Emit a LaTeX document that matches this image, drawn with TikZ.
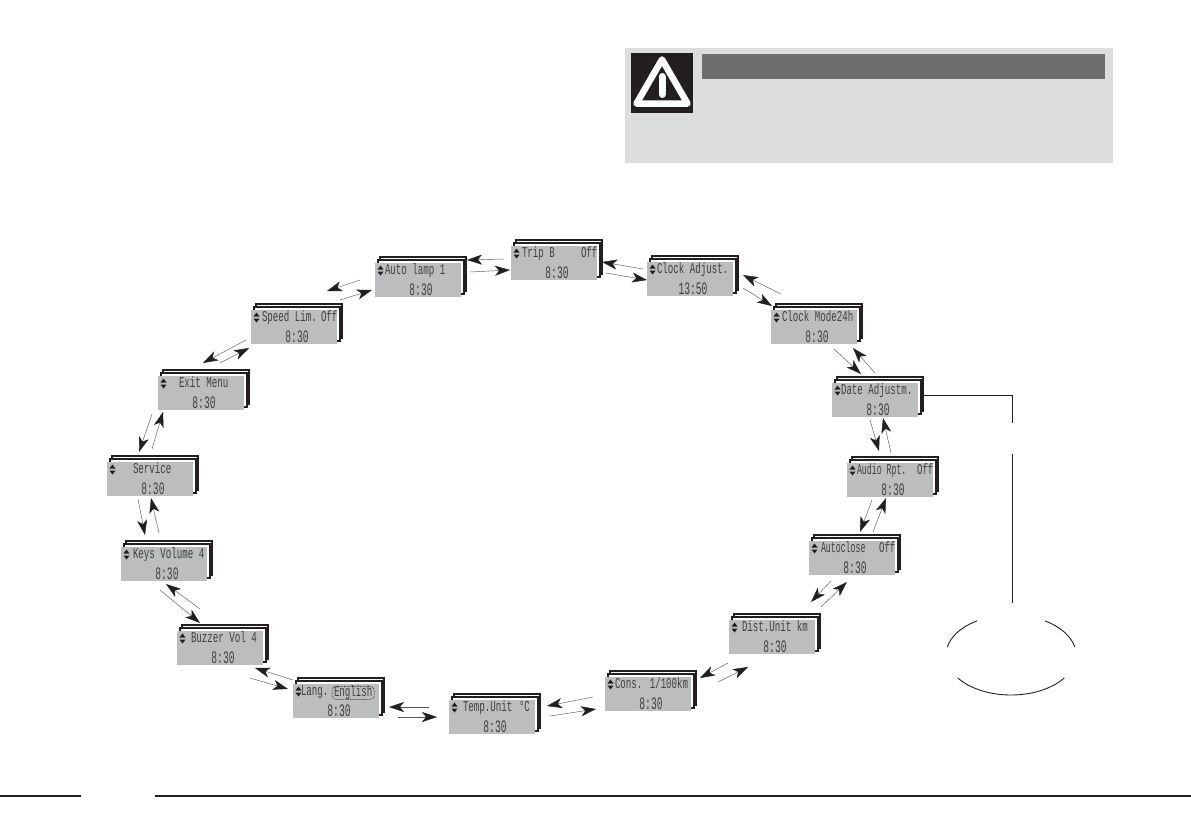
\documentclass[tikz,border=0pt]{standalone}
\usepackage{fontspec}
\usetikzlibrary{arrows.meta}
\newfontfamily\lcdlabel[FakeStretch=0.61]{Liberation Mono}
\newfontfamily\lcdclock[FakeStretch=0.55]{Liberation Mono}
\definecolor{facegray}{HTML}{BCBDBF}
\definecolor{panelgray}{HTML}{DCDDDF}
\definecolor{bargray}{HTML}{6D6E70}
\definecolor{inkblack}{HTML}{231F20}
\definecolor{lcdink}{HTML}{3F4042}
\tikzset{
  backcard/.style={draw=inkblack,fill=white,line width=1.1pt},
  lcdface/.style={fill=facegray,draw=none,minimum width=86pt,minimum height=34pt,inner sep=0pt,outer sep=0pt},
  lcdtext/.style={inner sep=0pt,outer sep=0pt,text=lcdink,anchor=west,text height=10pt,text depth=3pt,font=\lcdlabel\fontsize{15}{16}\selectfont},
  lcdtime/.style={inner sep=0pt,outer sep=0pt,text=lcdink,font=\lcdclock\fontsize{17.5}{18}\selectfont},
  flowarrow/.style={line width=0.45pt,draw=inkblack!75,-{Stealth[length=15pt,width=10pt,inset=4pt,color=inkblack]}},
  callout/.style={line width=1pt,draw=inkblack},
  footerline/.style={line width=2pt,draw=inkblack}
}
% name, cx, cy, label x from face left, label, right-hand text, time
\newcommand{\lcdunit}[7]{%
  \begin{scope}[shift={(#2,#3)}]
    \draw[backcard] (-38,-23) rectangle (48,11);
    \draw[backcard] (-40,-20) rectangle (46,14);
    \node[lcdface] (#1) at (0,0) {};
    \fill[inkblack] (-40.5,-10.5) -- (-34.5,-10.5) -- (-37.5,-14.5) -- cycle;
    \fill[inkblack] (-40.5,-8.5) -- (-34.5,-8.5) -- (-37.5,-4.5) -- cycle;
    \node[lcdtext] (#1-label) at (#4-43,-9) {#5};
    \def\lcdrighttext{#6}%
    \ifx\lcdrighttext\empty\else
      \node[lcdtext] (#1-right) at (27,-9) {#6};
    \fi
    \node[lcdtime] (#1-time) at (3,10) {#7};
  \end{scope}}
\newcommand{\lcdlink}[4]{\draw[flowarrow] ([shift={(#3)}]#1.center) -- ([shift={(#4)}]#2.center);}
\begin{document}
\begin{tikzpicture}[x=1pt,y=-1pt]
\useasboundingbox (0,0) rectangle (1191,839);
% warning panel
\fill[panelgray] (625,48) rectangle (1113,163);
\fill[inkblack] (631,53) rectangle (693,113);
\fill[bargray] (702,54) rectangle (1105,79);
\draw[white,line width=6.5pt,line join=round] (662,59.5) -- (636.5,103.5) -- (687.5,103.5) -- cycle;
\draw[white,line width=7pt,line cap=round] (662,76.5) -- (662,94.5);
% display units
\lcdunit{trip}{554}{263}{11}{Trip B}{Off}{8:30}
\lcdunit{auto}{418}{280}{10}{Auto lamp 1}{}{8:30}
\lcdunit{adj}{690}{279}{10}{Clock Adjust.}{}{13:50}
\lcdunit{mode}{814}{327}{11}{Clock Mode24h}{}{8:30}
\lcdunit{date}{875}{400}{9}{Date Adjustm.}{}{8:30}
\lcdunit{audio}{890}{480}{10}{\scalebox{0.9}[1]{Audio Rpt.}}{Off}{8:30}
\lcdunit{aclose}{852}{558}{12}{\scalebox{0.9}[1]{Autoclose}}{Off}{8:30}
\lcdunit{dist}{772}{637}{13}{Dist.Unit km}{}{8:30}
\lcdunit{cons}{648}{694}{10}{Cons. 1/100km}{}{8:30}
\lcdunit{temp}{492}{717}{14}{Temp.Unit}{°C}{8:30}
\lcdunit{lang}{336}{701}{8}{Lang.}{}{8:30}
\lcdunit{buzz}{220}{648}{14}{Buzzer Vol 4}{}{8:30}
\lcdunit{keys}{164}{564}{12}{Keys Volume 4}{}{8:30}
\lcdunit{serv}{150}{479}{26}{Service}{}{8:30}
\lcdunit{exit}{201}{393}{21}{Exit Menu}{}{8:30}
\lcdunit{speed}{294}{327}{11}{Speed Lim.}{Off}{8:30}
\node[lcdtext,draw=inkblack,densely dotted,line width=0.6pt,rounded corners=4pt,inner xsep=2pt,inner ysep=0pt,text height=10pt,text depth=3pt] (lang-value) at (332,693) {English};
% arrows
\lcdlink{trip}{auto}{-50,-4}{49,-20}
\lcdlink{auto}{trip}{52,-8}{-44,7}
\lcdlink{adj}{trip}{-47,-10}{48,-1}
\lcdlink{trip}{adj}{52,10}{-43,1}
\lcdlink{auto}{speed}{-58,0}{33,-36}
\lcdlink{speed}{auto}{46,-27}{-46,10}
\lcdlink{speed}{exit}{-48,13}{2,-30}
\lcdlink{exit}{speed}{19,-30}{-45,21}
\lcdlink{exit}{serv}{-49,21}{-11,-27}
\lcdlink{serv}{exit}{2,-30}{-38,19}
\lcdlink{serv}{keys}{-12,20}{-19,-29}
\lcdlink{keys}{serv}{-5,-31}{1,19}
\lcdlink{keys}{buzz}{-4,26}{-20,-25}
\lcdlink{buzz}{keys}{-20,-39}{2,20}
\lcdlink{buzz}{lang}{30,30}{-48,-12}
\lcdlink{lang}{buzz}{-43,-21}{35,20}
\lcdlink{lang}{temp}{62,16}{-55,0}
\lcdlink{temp}{lang}{-63,-10}{53,6}
\lcdlink{temp}{cons}{58,-1}{-52,15}
\lcdlink{cons}{temp}{-55,3}{55,-11}
\lcdlink{cons}{dist}{70,-12}{-24,30}
\lcdlink{dist}{cons}{-44,26}{52,-16}
\lcdlink{dist}{aclose}{49,-30}{-5,24}
\lcdlink{aclose}{dist}{-21,23}{39,-35}
\lcdlink{aclose}{audio}{21,-26}{-4,18}
\lcdlink{audio}{aclose}{-18,20}{8,-26}
\lcdlink{audio}{date}{1,-27}{8,18}
\lcdlink{date}{audio}{-5,20}{-11,-29}
\lcdlink{date}{mode}{0,-27}{39,21}
\lcdlink{mode}{date}{20,22}{-14,-26}
\lcdlink{mode}{adj}{-33,-33}{53,-4}
\lcdlink{adj}{mode}{53,9}{-42,-21}
% callout
\coordinate (calloutbend) at (1012,395);
\coordinate (calloutgapa) at (1012,423);
\coordinate (calloutgapb) at (1012,454);
\coordinate (calloutend) at (1012,603);
\draw[callout] ([shift={(45,-5)}]date.center) -- (calloutbend) -- (calloutgapa);
\draw[callout] (calloutgapb) -- (calloutend);
\draw[inkblack,line width=0.9pt] plot[domain=191.5:238.5,samples=30] ({1011+65*cos(\x)},{655+40*sin(\x)});
\draw[inkblack,line width=0.9pt] plot[domain=-58.5:-11.5,samples=30] ({1011+65*cos(\x)},{655+40*sin(\x)});
\draw[inkblack,line width=0.9pt] plot[domain=35:145,samples=40] ({1011+65*cos(\x)},{655+40*sin(\x)});
% footer
\draw[footerline] (0,796) -- (81,796);
\draw[footerline] (155,796) -- (1191,796);
\end{tikzpicture}
\end{document}
